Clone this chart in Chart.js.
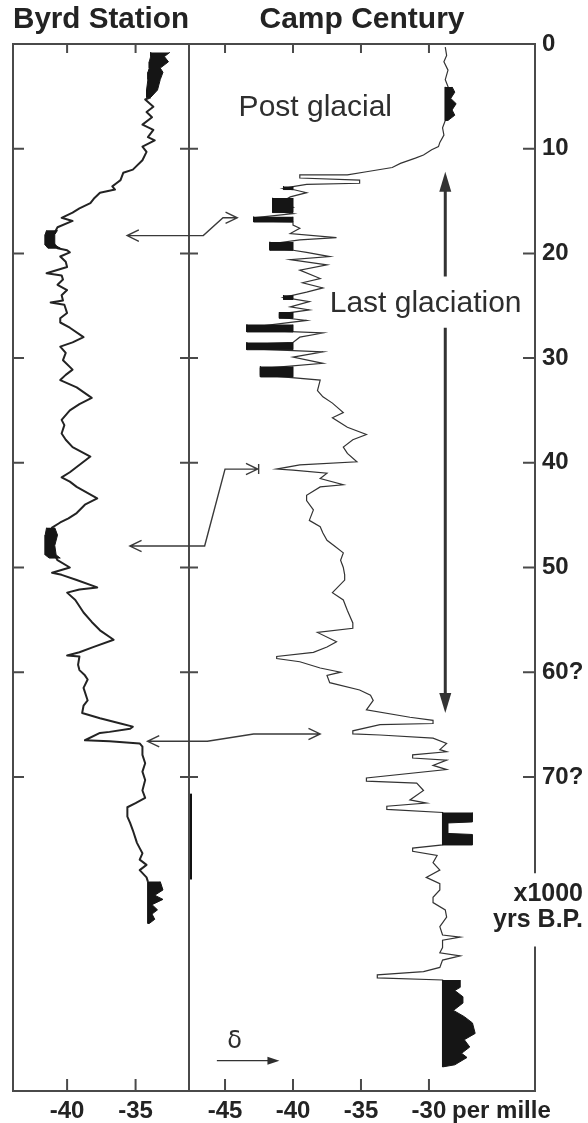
<!DOCTYPE html>
<html lang="en">
<head>
<meta charset="utf-8">
<title>Byrd Station and Camp Century isotope records</title>
<script src="https://cdn.jsdelivr.net/npm/chart.js@4.4.1/dist/chart.umd.min.js"></script>
<style>
  html, body { margin: 0; padding: 0; background: #fff; }
  .stage { position: relative; width: 588px; height: 1123px; overflow: hidden; }
  .stage canvas { position: absolute; left: 0; top: 0; }
</style>
</head>
<body>
<div class="stage">
  <canvas id="byrdChart" width="588" height="1123"></canvas>
  <canvas id="campChart" width="588" height="1123"></canvas>
</div>
<script>
// delta 18O (per mille) against age (x1000 yrs B.P.)

// Byrd Station, Antarctica
const byrdAge = [5.1, 5.3, 6.0, 6.5, 7.0, 7.7, 8.2, 8.9, 9.2, 9.8,
  10.3, 11.1, 12.0, 12.3, 13.0, 13.3, 13.6, 13.9, 14.2, 14.7,
  15.2, 15.7, 16.1, 16.6, 16.9, 17.5, 18.0, 18.7, 19.5, 19.7,
  19.9, 20.3, 20.8, 21.3, 21.9, 22.1, 22.5, 23.0, 23.5, 24.0,
  24.5, 24.7, 24.9, 25.7, 26.2, 26.6, 27.1, 28.0, 28.5, 28.9,
  29.5, 30.2, 31.1, 31.6, 32.1, 32.8, 33.8, 34.4, 35.0, 35.9,
  36.4, 37.2, 37.8, 38.5, 39.4, 40.4, 40.9, 41.4, 41.8, 42.3,
  43.4, 44.0, 44.8, 45.3, 45.7, 46.2, 47.4, 48.8, 49.3, 50.0,
  50.5, 50.7, 51.2, 51.9, 52.1, 52.4, 53.1, 54.3, 55.2, 56.0,
  56.9, 57.6, 58.1, 58.4, 58.5, 59.3, 59.8, 60.3, 60.7, 61.5,
  62.7, 63.2, 63.9, 64.4, 64.9, 65.2, 65.4, 65.7, 65.8, 66.5,
  66.6, 66.8, 67.1, 67.9, 68.7, 69.5, 70.3, 71.3, 72.0, 72.5,
  72.9, 73.8, 74.4, 75.1, 76.3, 76.8, 77.3, 77.9, 78.4, 78.9,
  79.6, 80.0];
const byrdDelta = [-33.9, -34.3, -33.7, -34.2, -33.8, -34.5, -33.7, -34.1, -33.6, -34.5,
  -34.2, -34.5, -35.2, -35.9, -36.1, -36.4, -36.7, -36.5, -37.6, -38.0,
  -38.3, -39.1, -39.6, -40.4, -39.6, -40.7, -40.9, -41.2, -40.7, -40.0,
  -39.8, -40.5, -40.1, -40.0, -41.5, -40.4, -40.3, -40.7, -40.0, -40.4,
  -40.3, -41.2, -40.2, -40.0, -40.5, -40.5, -39.8, -38.8, -39.6, -40.5,
  -40.1, -40.3, -39.6, -40.1, -40.5, -39.3, -38.2, -39.1, -39.8, -40.4,
  -40.2, -40.4, -40.1, -39.6, -38.3, -39.3, -39.8, -40.4, -39.8, -39.3,
  -37.8, -38.7, -39.3, -39.9, -40.5, -41.1, -41.2, -40.9, -40.7, -39.8,
  -41.1, -40.4, -39.3, -37.8, -39.1, -40.0, -39.4, -38.8, -38.2, -37.6,
  -36.6, -38.1, -39.1, -40.0, -39.1, -39.2, -39.1, -38.7, -38.5, -38.8,
  -38.5, -38.8, -38.9, -37.6, -36.1, -35.2, -35.4, -36.9, -37.6, -38.7,
  -36.9, -34.7, -34.5, -34.5, -34.3, -34.5, -34.3, -34.5, -34.3, -35.0,
  -35.6, -35.6, -35.4, -35.2, -34.9, -34.7, -34.5, -34.7, -34.2, -34.7,
  -34.2, -34.1];

// densely sampled stretches that print solid black
const byrdFillAge = [
  [0.8, 1.2, 1.7, 2.3, 2.7, 3.4, 4.4, 5.1],
  [17.8, 18.2, 18.7, 19.2, 19.5],
  [46.2, 46.9, 47.9, 48.8, 49.1],
  [80.0, 80.8, 81.3, 81.7, 82.2, 82.7, 83.1, 83.6, 84.0]
];
const byrdFillLeft = [
  [-33.9, -33.9, -34.0, -34.0, -34.1, -34.1, -34.2, -34.2],
  [-41.5, -41.6, -41.6, -41.6, -41.4],
  [-41.5, -41.6, -41.6, -41.6, -41.3],
  [-34.1, -34.1, -34.1, -34.1, -34.1, -34.1, -34.1, -34.1, -34.1]
];
const byrdFillRight = [
  [-32.5, -32.9, -32.6, -33.2, -33.0, -33.2, -33.4, -33.9],
  [-40.7, -40.9, -40.9, -40.9, -40.5],
  [-40.9, -40.7, -40.9, -40.8, -40.5],
  [-33.2, -33.0, -33.6, -33.0, -33.8, -33.4, -33.8, -33.6, -34.0]
];
// stretch marked on the divider
const byrdGapAge = [71.6, 79.8];

// Camp Century, Greenland
const campAge = [0.3, 1.1, 1.7, 2.5, 3.4, 4.4, 5.4, 6.3, 7.3, 8.0,
  8.7, 9.4, 9.8, 10.1, 10.6, 10.9, 11.4, 11.8, 12.2, 12.5,
  12.5, 12.8, 13.0, 13.3, 13.4, 13.6, 13.8, 13.9, 14.2, 14.6,
  14.9, 15.2, 15.6, 16.0, 16.2, 16.6, 16.9, 17.0, 17.3, 17.6,
  18.1, 18.5, 18.7, 19.1, 19.5, 19.7, 19.9, 20.3, 20.6, 21.1,
  21.6, 22.4, 22.8, 23.3, 23.7, 24.2, 24.6, 25.1, 25.4, 25.8,
  26.1, 26.4, 27.1, 27.3, 27.6, 28.0, 28.5, 28.7, 29.1, 29.4,
  29.9, 30.5, 31.0, 31.6, 32.1, 33.1, 33.7, 34.3, 35.2, 35.7,
  36.6, 37.3, 37.8, 38.5, 39.1, 39.9, 40.2, 40.6, 40.7, 41.0,
  41.5, 42.1, 42.3, 43.1, 43.6, 44.5, 45.5, 46.1, 46.7, 47.4,
  48.0, 48.6, 49.3, 50.0, 50.7, 51.2, 52.4, 53.1, 54.1, 55.3,
  55.8, 56.2, 57.1, 57.6, 58.1, 58.5, 58.7, 59.0, 59.6, 60.0,
  60.3, 61.0, 61.7, 62.2, 62.7, 63.6, 64.3, 64.6, 64.9, 65.0,
  65.6, 65.9, 66.0, 66.3, 66.8, 67.4, 67.6, 67.9, 68.2, 68.4,
  68.9, 69.3, 70.1, 70.4, 70.6, 71.3, 72.2, 72.5, 72.8, 73.1,
  73.4, 76.5, 76.8, 77.1, 77.5, 78.2, 78.9, 79.6, 80.2, 80.8,
  81.5, 82.0, 82.7, 83.4, 84.3, 85.1, 85.3, 85.6, 86.3, 86.8,
  87.1, 87.5, 88.2, 88.6, 88.9, 89.2, 89.4, 97.7];
const campDelta = [-28.8, -28.7, -28.9, -28.6, -28.8, -28.5, -28.7, -28.5, -28.8, -29.0,
  -28.9, -29.2, -29.3, -29.8, -30.4, -31.0, -32.1, -32.7, -34.6, -36.0,
  -39.5, -39.5, -35.1, -35.1, -39.0, -39.9, -40.7, -40.0, -39.0, -40.2,
  -40.6, -41.3, -40.0, -41.0, -40.0, -42.9, -42.9, -40.0, -40.0, -39.5,
  -40.2, -36.8, -39.5, -41.7, -41.7, -40.0, -39.0, -37.3, -40.2, -37.5,
  -39.5, -38.0, -39.3, -37.8, -39.0, -40.7, -38.8, -40.2, -38.8, -41.0,
  -41.0, -39.0, -43.4, -43.4, -37.8, -39.5, -40.0, -43.4, -43.4, -37.8,
  -40.0, -37.8, -42.4, -42.4, -38.0, -38.2, -37.8, -37.1, -36.3, -37.1,
  -36.0, -34.6, -35.6, -36.3, -36.0, -35.3, -39.5, -41.2, -40.0, -37.5,
  -38.0, -36.3, -38.0, -39.0, -39.0, -38.5, -38.8, -38.0, -37.8, -37.5,
  -36.9, -36.3, -36.5, -36.3, -36.2, -36.2, -37.1, -36.3, -36.0, -35.6,
  -35.6, -38.2, -36.8, -37.5, -38.5, -41.2, -41.2, -39.5, -38.0, -36.5,
  -37.5, -37.3, -35.1, -34.3, -34.1, -34.6, -31.4, -29.7, -29.7, -33.6,
  -35.6, -35.6, -33.6, -29.7, -28.7, -29.2, -28.7, -31.2, -31.2, -28.7,
  -29.7, -28.7, -34.6, -34.6, -30.9, -30.4, -31.4, -30.2, -33.1, -33.1,
  -29.0, -29.0, -31.2, -31.2, -29.4, -29.7, -29.2, -30.2, -29.2, -29.2,
  -29.7, -29.7, -28.8, -28.7, -29.2, -29.0, -27.7, -29.0, -29.0, -29.2,
  -27.7, -29.0, -29.2, -30.4, -33.8, -33.8, -29.0, -29.0];

const campFillAge = [
  [4.1, 4.6, 5.2, 5.7, 6.3, 6.8, 7.3],
  [73.4, 74.3, 74.4, 75.4, 75.5, 76.5],
  [89.4, 90.1, 90.4, 91.0, 91.6, 92.3, 92.9, 93.5, 94.5, 95.1, 95.8, 96.4, 96.8, 97.5, 97.7]
];
const campFillLeft = [
  [-28.8, -28.8, -28.8, -28.8, -28.8, -28.8, -28.8],
  [-29.0, -29.0, -29.0, -29.0, -29.0, -29.0],
  [-29.0, -29.0, -29.0, -29.0, -29.0, -29.0, -29.0, -29.0, -29.0, -29.0, -29.0, -29.0, -29.0, -29.0, -29.0]
];
const campFillRight = [
  [-28.3, -28.1, -28.4, -28.0, -28.3, -28.1, -28.6],
  [-26.8, -26.8, -28.6, -28.6, -26.8, -26.8],
  [-27.7, -27.7, -28.1, -27.5, -27.5, -28.2, -27.4, -26.8, -26.6, -27.4, -27.0, -27.6, -27.2, -28.1, -29.0]
];
// cold bands of the last glaciation, solid black
const campBarTop = [13.6, 14.7, 16.5, 18.9, 24.0, 25.6, 26.8, 28.5, 30.8];
const campBarBottom = [13.9, 16.1, 17.0, 19.7, 24.4, 26.2, 27.5, 29.2, 31.8];
const campBarLeft = [-40.7, -41.5, -42.9, -41.7, -40.7, -41.0, -43.4, -43.4, -42.4];
const campBarRight = [-40.0, -40.0, -40.0, -40.0, -40.0, -40.0, -40.0, -40.0, -40.0];

// axes
const byrdTicks = [-40, -35];
const campTicks = [-45, -40, -35, -30];
const ageTicks = [0, 10, 20, 30, 40, 50, 60, 70];
const ageLabels = ['0', '10', '20', '30', '40', '50', '60?', '70?'];

const ink = '#232323';
const frameColor = '#4a4a4a';

function pts(xs, ys) {
  return xs.map((v, i) => ({ x: v, y: ys[i] }));
}

function band(ages, left, right) {
  const out = pts(left, ages);
  for (let i = ages.length - 1; i >= 0; i--) out.push({ x: right[i], y: ages[i] });
  return out;
}

function fillSet(data) {
  return {
    data: data,
    showLine: true,
    fill: 'shape',
    backgroundColor: '#151515',
    borderColor: '#151515',
    borderWidth: 1,
    pointRadius: 0
  };
}

function openHead(ctx, from, tip, len, spread) {
  const ang = Math.atan2(tip[1] - from[1], tip[0] - from[0]);
  ctx.moveTo(tip[0] - len * Math.cos(ang - spread), tip[1] - len * Math.sin(ang - spread));
  ctx.lineTo(tip[0], tip[1]);
  ctx.lineTo(tip[0] - len * Math.cos(ang + spread), tip[1] - len * Math.sin(ang + spread));
}

function solidHead(ctx, from, tip, len, half) {
  const ang = Math.atan2(tip[1] - from[1], tip[0] - from[0]);
  const bx = tip[0] - len * Math.cos(ang);
  const by = tip[1] - len * Math.sin(ang);
  ctx.beginPath();
  ctx.moveTo(tip[0], tip[1]);
  ctx.lineTo(bx + half * Math.sin(ang), by - half * Math.cos(ang));
  ctx.lineTo(bx - half * Math.sin(ang), by + half * Math.cos(ang));
  ctx.closePath();
  ctx.fill();
}

Chart.defaults.font.family = "'Liberation Sans', Arial, sans-serif";
Chart.defaults.color = ink;
Chart.defaults.animation = false;

const tickFont = { size: 24, weight: 'bold' };
const titleFont = { size: 30, weight: 'bold' };

// frame with inward ticks for the Byrd panel
const byrdFrame = {
  id: 'byrdFrame',
  afterDraw(chart) {
    const { ctx, chartArea: a, scales: { x, y } } = chart;
    ctx.save();
    ctx.strokeStyle = frameColor;
    ctx.lineWidth = 2;
    ctx.strokeRect(a.left, a.top, a.right - a.left, a.bottom - a.top);
    ctx.beginPath();
    x.ticks.forEach(t => {
      const p = x.getPixelForValue(t.value);
      ctx.moveTo(p, a.top); ctx.lineTo(p, a.top + 9);
      ctx.moveTo(p, a.bottom); ctx.lineTo(p, a.bottom - 12);
    });
    ageTicks.forEach(v => {
      if (v === 0) return;
      const p = y.getPixelForValue(v);
      ctx.moveTo(a.left, p); ctx.lineTo(a.left + 11, p);
      ctx.moveTo(a.right, p); ctx.lineTo(a.right - 9, p);
    });
    ctx.stroke();
    // marked stretch on the divider
    ctx.strokeStyle = '#111';
    ctx.lineWidth = 4;
    ctx.beginPath();
    ctx.moveTo(a.right + 1, y.getPixelForValue(byrdGapAge[0]));
    ctx.lineTo(a.right + 1, y.getPixelForValue(byrdGapAge[1]));
    ctx.stroke();
    ctx.restore();
  }
};

// correlation arrows, in Camp Century delta units (extend left past the panel)
const links = [
  [[-52.2, 18.3], [-46.6, 18.3], [-45.15, 16.6], [-44.1, 16.6]],
  [[-52.0, 47.95], [-46.5, 47.95], [-45.0, 40.6], [-42.6, 40.6]],
  [[-50.7, 66.6], [-46.3, 66.6], [-42.9, 65.9], [-38.0, 65.9]]
];
const axisBreak = [79.2, 86.2];

const campFrame = {
  id: 'campFrame',
  afterDraw(chart) {
    const { ctx, chartArea: a, scales: { x, y } } = chart;
    const px = v => x.getPixelForValue(v);
    const py = v => y.getPixelForValue(v);
    ctx.save();

    ctx.strokeStyle = frameColor;
    ctx.lineWidth = 2;
    ctx.beginPath();
    ctx.moveTo(a.right, py(axisBreak[0]));
    ctx.lineTo(a.right, a.top);
    ctx.lineTo(a.left, a.top);
    ctx.lineTo(a.left, a.bottom);
    ctx.lineTo(a.right, a.bottom);
    ctx.lineTo(a.right, py(axisBreak[1]));
    ctx.stroke();

    ctx.beginPath();
    x.ticks.forEach(t => {
      const p = px(t.value);
      ctx.moveTo(p, a.top); ctx.lineTo(p, a.top + 9);
      ctx.moveTo(p, a.bottom); ctx.lineTo(p, a.bottom - 12);
    });
    y.ticks.forEach(t => {
      if (t.value === 0) return;
      const p = py(t.value);
      ctx.moveTo(a.left, p); ctx.lineTo(a.left + 9, p);
      ctx.moveTo(a.right, p); ctx.lineTo(a.right - 12, p);
    });
    ctx.stroke();

    // links between the two cores
    ctx.strokeStyle = '#3a3a3a';
    ctx.lineWidth = 1.4;
    links.forEach((path, k) => {
      const p = path.map(q => [px(q[0]), py(q[1])]);
      ctx.beginPath();
      p.forEach((q, i) => (i ? ctx.lineTo(q[0], q[1]) : ctx.moveTo(q[0], q[1])));
      openHead(ctx, p[1], p[0], 13, 0.45);
      openHead(ctx, p[p.length - 2], p[p.length - 1], 13, 0.45);
      if (k === 1) {
        const tip = p[p.length - 1];
        ctx.moveTo(tip[0] + 1, tip[1] - 5);
        ctx.lineTo(tip[0] + 1, tip[1] + 5);
      }
      ctx.stroke();
    });

    // last glaciation span
    ctx.strokeStyle = '#333';
    ctx.fillStyle = '#333';
    ctx.lineWidth = 3;
    const gx = px(-28.8);
    ctx.beginPath();
    ctx.moveTo(gx, py(22.2)); ctx.lineTo(gx, py(12.2) + 16);
    ctx.moveTo(gx, py(27.1)); ctx.lineTo(gx, py(63.9) - 16);
    ctx.stroke();
    solidHead(ctx, [gx, py(20)], [gx, py(12.2)], 20, 6);
    solidHead(ctx, [gx, py(50)], [gx, py(63.9)], 20, 6);

    // labels inside the plot
    ctx.fillStyle = '#2e2e2e';
    ctx.textBaseline = 'middle';
    ctx.textAlign = 'left';
    ctx.font = "30px 'Liberation Sans', Arial, sans-serif";
    ctx.fillText('Post glacial', px(-44.0), py(6.1));
    ctx.fillText('Last glaciation', px(-37.3), py(24.8));

    // delta direction arrow
    ctx.textAlign = 'center';
    ctx.font = "24px 'DejaVu Sans', sans-serif";
    ctx.fillText('δ', px(-44.3), py(95.3));
    ctx.lineWidth = 1.4;
    ctx.beginPath();
    ctx.moveTo(px(-45.6), py(97.1));
    ctx.lineTo(px(-41.0) - 8, py(97.1));
    ctx.stroke();
    solidHead(ctx, [px(-45.6), py(97.1)], [px(-41.0), py(97.1)], 12, 4);

    // axis units
    ctx.fillStyle = ink;
    ctx.textAlign = 'left';
    ctx.font = "bold 24px 'Liberation Sans', Arial, sans-serif";
    ctx.fillText('per mille', px(-28.3), a.bottom + 20);
    ctx.textAlign = 'right';
    ctx.font = "bold 25px 'Liberation Sans', Arial, sans-serif";
    ctx.fillText('x1000', chart.width - 5, py(81.2));
    ctx.fillText('yrs B.P.', chart.width - 5, py(83.7));
    ctx.restore();
  }
};

new Chart(document.getElementById('byrdChart'), {
  type: 'scatter',
  data: {
    datasets: [
      ...byrdFillAge.map((ages, i) => fillSet(band(ages, byrdFillLeft[i], byrdFillRight[i]))),
      {
        data: pts(byrdDelta, byrdAge),
        showLine: true,
        borderColor: ink,
        borderWidth: 2,
        borderJoinStyle: 'round',
        pointRadius: 0
      }
    ]
  },
  options: {
    responsive: false,
    events: [],
    layout: { padding: { left: 13, right: 399, top: 0, bottom: 2 } },
    plugins: {
      legend: { display: false },
      tooltip: { enabled: false },
      title: {
        display: true,
        text: 'Byrd Station',
        align: 'start',
        font: titleFont,
        color: ink,
        padding: { top: 2, bottom: 6 }
      }
    },
    scales: {
      x: {
        type: 'linear',
        min: -43.95,
        max: -31.1,
        grid: { display: false, drawTicks: false },
        border: { display: false },
        afterBuildTicks: s => { s.ticks = byrdTicks.map(v => ({ value: v })); },
        afterFit: s => { s.height = 30; },
        ticks: { font: tickFont, color: ink, padding: 6, autoSkip: false, maxRotation: 0, callback: v => String(v) }
      },
      y: { type: 'linear', reverse: true, min: 0, max: 100, display: false }
    }
  },
  plugins: [byrdFrame]
});

new Chart(document.getElementById('campChart'), {
  type: 'scatter',
  data: {
    datasets: [
      ...campFillAge.map((ages, i) => fillSet(band(ages, campFillLeft[i], campFillRight[i]))),
      ...campBarTop.map((top, i) => fillSet(band([top, campBarBottom[i]],
        [campBarLeft[i], campBarLeft[i]], [campBarRight[i], campBarRight[i]]))),
      {
        data: pts(campDelta, campAge),
        showLine: true,
        borderColor: '#333',
        borderWidth: 1.2,
        pointRadius: 0
      }
    ]
  },
  options: {
    responsive: false,
    events: [],
    layout: { padding: { left: 189, right: 0, top: 0, bottom: 2 } },
    plugins: {
      legend: { display: false },
      tooltip: { enabled: false },
      title: {
        display: true,
        text: 'Camp Century',
        fullSize: false,
        font: titleFont,
        color: ink,
        padding: { top: 2, bottom: 6 }
      }
    },
    scales: {
      x: {
        type: 'linear',
        min: -47.65,
        max: -22.2,
        grid: { display: false, drawTicks: false },
        border: { display: false },
        afterBuildTicks: s => { s.ticks = campTicks.map(v => ({ value: v })); },
        afterFit: s => { s.height = 30; },
        ticks: { font: tickFont, color: ink, padding: 6, autoSkip: false, maxRotation: 0, callback: v => String(v) }
      },
      y: {
        type: 'linear',
        position: 'right',
        reverse: true,
        min: 0,
        max: 100,
        grid: { display: false, drawTicks: false },
        border: { display: false },
        afterBuildTicks: s => { s.ticks = ageTicks.map(v => ({ value: v })); },
        afterFit: s => { s.width = 53; },
        ticks: { font: tickFont, color: ink, padding: 7, autoSkip: false, callback: (v, i) => ageLabels[i] }
      }
    }
  },
  plugins: [campFrame]
});
</script>
</body>
</html>
